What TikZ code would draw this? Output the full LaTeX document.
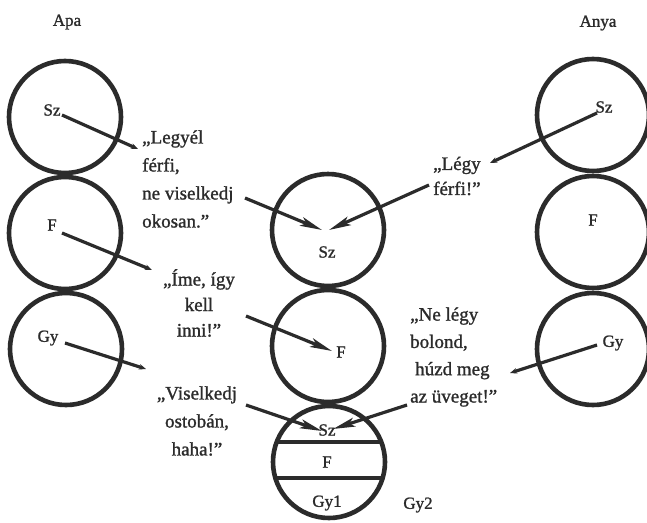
\documentclass[tikz,border=0pt]{standalone}
\usepackage{fontspec}
\setmainfont{Liberation Serif}[FakeBold=1.2]
\usetikzlibrary{arrows.meta}
\definecolor{ink}{HTML}{2B2B2B}
\begin{document}
\begin{tikzpicture}[x=1pt,y=-1pt,
  ring/.style={circle,draw=ink,line width=4.6pt,minimum size=112pt,inner sep=0pt},
  lbl/.style={text=ink,inner sep=0pt,font=\fontsize{17}{20}\selectfont},
  quote/.style={text=ink,inner sep=0pt},
  talk/.style={draw=ink,line width=3.2pt,-{Stealth[length=7pt,width=5.5pt]}},
  hit/.style={draw=ink,line width=3.2pt,-{Stealth[length=22pt,width=9pt,inset=5pt]}}]
\useasboundingbox (0,0) rectangle (647,522);
\fill[white] (0,0) rectangle (647,522);
% titles
\node[lbl] (apa) at (67,22) {Apa};
\node[lbl] (anya) at (598,23) {Anya};
% father circles
\node[ring] (aSzC) at (65,117) {};
\node[ring] (aFC) at (65,233) {};
\node[ring] (aGyC) at (66,349) {};
% mother circles
\node[ring] (nSzC) at (593,115) {};
\node[ring] (nFC) at (593,232) {};
\node[ring] (nGyC) at (593,349) {};
% child circles
\node[ring] (cSzC) at (328,230) {};
\node[ring] (cFC) at (328,346) {};
\node[ring] (cGyC) at (329,462) {};
\begin{scope}
  \clip (329,462) circle (57pt);
  \draw[ink,line width=4pt] (260,442) -- (400,442);
  \draw[ink,line width=4pt] (260,478) -- (400,478);
\end{scope}
% labels
\node[lbl] (aSz) at (52,110) {Sz};
\node[lbl] (aF) at (52,225) {F};
\node[lbl] (aGy) at (48,338) {Gy};
\node[lbl] (nSz) at (604,107) {Sz};
\node[lbl] (nF) at (593,220) {F};
\node[lbl] (nGy) at (613,343) {Gy};
\node[lbl] (cSz) at (327,252) {Sz};
\node[lbl] (cF) at (341,352) {F};
\node[lbl] (bSz) at (327,430) {Sz};
\node[lbl] (bF) at (327,462) {F};
\node[lbl] (bGy1) at (327,503) {Gy1};
\node[lbl] (bGy2) at (418,505) {Gy2};
% quotes
\node[quote,anchor=west,align=left,font=\fontsize{19}{28}\selectfont] (q1) at (142,179)
  {„Legyél\\férfi,\\ne viselkedj\\okosan.”};
\node[quote,align=center,font=\fontsize{19}{25.5}\selectfont] (q2) at (199,303)
  {„Íme, így\\kell\\inni!”};
\node[quote,align=center,font=\fontsize{19}{28}\selectfont] (q3) at (197,421)
  {„Viselkedj\\ostobán,\\haha!”};
\node[quote,anchor=west,align=left,font=\fontsize{19}{25}\selectfont] (q4) at (433,176)
  {„Légy\\férfi!”};
\node[quote,anchor=west,align=left,font=\fontsize{19}{27.3}\selectfont] (q5) at (410,357)
  {„Ne légy\\bolond,\\\hspace{5pt}húzd meg\\az üveget!”};
% connector end points
\coordinate (a1s) at (62,115);  \coordinate (a1e) at (138,149);
\coordinate (a1f) at (245,198); \coordinate (c1t) at (322,230);
\coordinate (a2s) at (62,233);  \coordinate (a2e) at (152,270);
\coordinate (a2f) at (246,316); \coordinate (c2t) at (332,351);
\coordinate (a3s) at (65,343);  \coordinate (a3e) at (146,369);
\coordinate (a3f) at (246,405); \coordinate (c3t) at (322,431);
\coordinate (n1s) at (597,113); \coordinate (n1e) at (490,163);
\coordinate (n1f) at (429,185); \coordinate (c4t) at (329,230);
\coordinate (n3s) at (597,345); \coordinate (n3e) at (510,373);
\coordinate (n3f) at (407,405); \coordinate (c5t) at (333,429);
% connectors
\draw[talk] (a1s) -- (a1e);
\draw[hit] (a1f) -- (c1t);
\draw[talk] (a2s) -- (a2e);
\draw[hit] (a2f) -- (c2t);
\draw[talk] (a3s) -- (a3e);
\draw[hit] (a3f) -- (c3t);
\draw[talk] (n1s) -- (n1e);
\draw[hit] (n1f) -- (c4t);
\draw[talk] (n3s) -- (n3e);
\draw[hit] (n3f) -- (c5t);
\end{tikzpicture}
\end{document}
